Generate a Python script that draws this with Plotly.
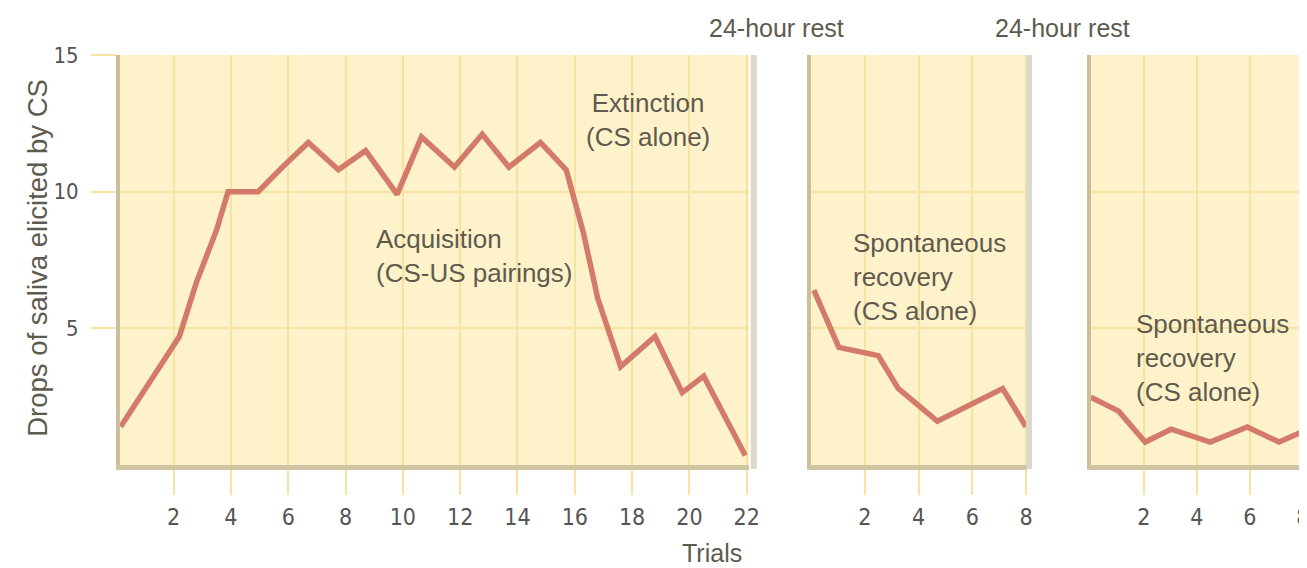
import plotly.graph_objects as go

# ---------------- data ----------------
acq_trials = [0.15, 2.2, 2.8, 3.5, 3.9, 4.95, 5.8, 6.7, 7.75, 8.7, 9.8, 10.65, 11.8,
              12.77, 13.7, 14.8, 15.7, 16.3, 16.8, 17.6, 18.8, 19.75, 20.5, 21.95]
acq_drops = [1.4, 4.7, 6.7, 8.6, 10.0, 10.0, 10.9, 11.8, 10.8, 11.5, 9.9, 12.0, 10.9,
             12.1, 10.9, 11.8, 10.8, 8.5, 6.1, 3.6, 4.7, 2.65, 3.25, 0.35]

rest1_trials = [0.1, 1.03, 2.5, 3.24, 4.7, 7.13, 8.0]
rest1_drops = [6.4, 4.3, 4.0, 2.8, 1.6, 2.8, 1.4]

rest2_trials = [0.0, 1.05, 2.05, 3.03, 4.5, 5.9, 7.1, 8.04]
rest2_drops = [2.48, 1.97, 0.84, 1.31, 0.84, 1.39, 0.84, 1.24]

main_ticks = [2, 4, 6, 8, 10, 12, 14, 16, 18, 20, 22]
rest_ticks = [2, 4, 6, 8]
y_ticks = [5, 10, 15]

# ---------------- style ----------------
PAGE_W, PAGE_H = 1307, 568
OFF_X, OFF_Y = 0, 8          # observed offset of the figure inside the page
FW, FH = PAGE_W - OFF_X, PAGE_H - OFF_Y
TOP, BOT = 55, 465           # plot area in page pixels
MT = TOP - OFF_Y
MB = FH - (BOT - OFF_Y)
BG = "#FEF2CA"
GRID = "#F8E2A2"
LINE = "#D47A6B"
EDGE_L = "#CBBF9A"
EDGE_B = "#CFC5A3"
SHADOW = "#DDD8CC"
TXT = "#5E5B4E"
TICKTXT = "#555555"
FONT = "Liberation Sans, Arial, sans-serif"
TICKFONT = "Liberation Sans Narrow, DejaVu Sans Condensed, Liberation Sans, sans-serif"


def px(v):
    """page x pixel -> paper fraction"""
    return (v - OFF_X) / FW


def py(v):
    """page y pixel -> paper fraction"""
    return (BOT - v) / (BOT - TOP)


fig = go.Figure()
for xs, ys, xa, ya in [(acq_trials, acq_drops, "x", "y"),
                       (rest1_trials, rest1_drops, "x2", "y2"),
                       (rest2_trials, rest2_drops, "x3", "y3")]:
    fig.add_trace(go.Scatter(x=xs, y=ys, xaxis=xa, yaxis=ya, mode="lines",
                             line=dict(color=LINE, width=5.5), hoverinfo="skip"))

xcommon = dict(showgrid=True, gridcolor=GRID, gridwidth=2, ticks="outside", ticklen=25,
               tickcolor=GRID, tickwidth=2, showline=True, linecolor=EDGE_B, linewidth=5,
               zeroline=False, tickfont=dict(family=TICKFONT, size=23, color=TICKTXT),
               ticklabelstandoff=2, fixedrange=True)
ycommon = dict(range=[0, 15], domain=[0, 1], tickvals=y_ticks, showgrid=True, gridcolor=GRID,
               gridwidth=2, showline=True, linecolor=EDGE_L, linewidth=4, zeroline=False,
               fixedrange=True)

fig.update_layout(
    width=FW, height=FH, margin=dict(l=0, r=0, t=MT, b=MB, pad=0),
    paper_bgcolor="white", plot_bgcolor=BG, showlegend=False,
    xaxis=dict(domain=[px(113), px(747)], range=[0.13, 22.07], tickvals=main_ticks,
               anchor="y", **xcommon),
    xaxis2=dict(domain=[px(810), px(1028)], range=[0, 8.05], tickvals=rest_ticks,
                anchor="y2", **xcommon),
    xaxis3=dict(domain=[px(1092), 1.0], range=[0, 8.04], tickvals=rest_ticks,
                anchor="y3", **xcommon),
    yaxis=dict(anchor="x", ticks="outside", ticklen=25, tickcolor=GRID, tickwidth=2,
               tickfont=dict(family=TICKFONT, size=22, color=TICKTXT),
               ticklabelstandoff=8, **ycommon),
    yaxis2=dict(anchor="x2", showticklabels=False, ticks="", **ycommon),
    yaxis3=dict(anchor="x3", showticklabels=False, ticks="", **ycommon),
)

# right-edge shadows of the panels
for xr, yr in [("x domain", "y domain"), ("x2 domain", "y2 domain")]:
    fig.add_shape(type="line", xref=xr, yref=yr, x0=1.008, x1=1.008, y0=-0.01, y1=1,
                  line=dict(color=SHADOW, width=6), layer="above")

ann_font = dict(family=FONT, size=26, color=TXT)
annotations = [
    dict(text="24-hour rest", x=px(775), y=py(28), xanchor="center", yanchor="middle",
         font=dict(family=FONT, size=25, color=TXT)),
    dict(text="24-hour rest", x=px(1063), y=py(28), xanchor="center", yanchor="middle",
         font=dict(family=FONT, size=25, color=TXT)),
    dict(text="Acquisition<br>(CS-US pairings)", x=px(369), y=py(222), xanchor="left",
         yanchor="top", align="left", font=ann_font),
    dict(text="Extinction<br>(CS alone)", x=px(645), y=py(86), xanchor="center",
         yanchor="top", align="center", font=ann_font),
    dict(text="Spontaneous<br>recovery<br>(CS alone)", x=px(850), y=py(226), xanchor="left",
         yanchor="top", align="left", font=ann_font),
    dict(text="Spontaneous<br>recovery<br>(CS alone)", x=px(1136), y=py(307), xanchor="left",
         yanchor="top", align="left", font=ann_font),
    dict(text="Trials", x=px(710), y=py(553), xanchor="center", yanchor="middle",
         font=dict(family=FONT, size=25, color=TXT)),
    dict(text="Drops of saliva elicited by CS", x=px(29), y=py(258), xanchor="center",
         yanchor="middle", textangle=-90, font=dict(family=FONT, size=27.5, color=TXT)),
]
for a in annotations:
    fig.add_annotation(xref="paper", yref="paper", showarrow=False, **a)

fig.write_html("out.html")
